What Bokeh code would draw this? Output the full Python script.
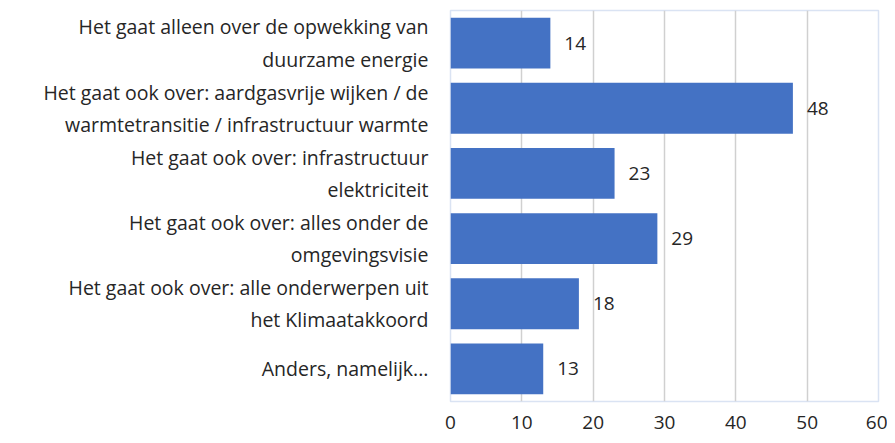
from bokeh.plotting import figure
from bokeh.models import ColumnDataSource, FactorRange, LabelSet, FixedTicker
from bokeh.core.properties import value
from bokeh.embed import file_html
from bokeh.resources import INLINE

categories = [
    "Het gaat alleen over de opwekking van\nduurzame energie",
    "Het gaat ook over: aardgasvrije wijken / de\nwarmtetransitie / infrastructuur warmte",
    "Het gaat ook over: infrastructuur\nelektriciteit",
    "Het gaat ook over: alles onder de\nomgevingsvisie",
    "Het gaat ook over: alle onderwerpen uit\nhet Klimaatakkoord",
    "Anders, namelijk...",
]
values = [14, 48, 23, 29, 18, 13]
x_ticks = [0, 10, 20, 30, 40, 50, 60]

src = ColumnDataSource(dict(cat=categories, val=values, lab=[str(v) for v in values]))

p = figure(width=887, height=435, output_backend="svg", toolbar_location=None,
           y_range=FactorRange(factors=categories[::-1], range_padding=0),
           x_range=(0, 60), min_border_left=450, min_border_right=9,
           min_border_top=10, min_border_bottom=34)

p.hbar(y="cat", right="val", left=0, height=0.78, source=src,
       fill_color="#4472C4", line_color=None)

labels = LabelSet(x="val", y="cat", text="lab", source=src, x_offset=14,
                  text_baseline="middle", text_font=value("Open Sans"),
                  text_font_size=value("19px"), text_color="#262626")
p.add_layout(labels)

p.xaxis.ticker = FixedTicker(ticks=x_ticks)
p.xaxis.axis_line_color = None
p.xaxis.major_tick_line_color = None
p.xaxis.minor_tick_line_color = None
p.xaxis.major_label_text_font = "Open Sans"
p.xaxis.major_label_text_font_size = "19px"
p.xaxis.major_label_text_color = "#262626"
p.xaxis.major_label_standoff = 8

p.yaxis.axis_line_color = None
p.yaxis.major_tick_line_color = None
p.yaxis.minor_tick_line_color = None
p.yaxis.major_label_text_font = "Open Sans"
p.yaxis.major_label_text_font_size = "19.5px"
p.yaxis.major_label_text_color = "#262626"
p.yaxis.major_label_standoff = 16

p.ygrid.grid_line_color = None
p.xgrid.grid_line_color = "#D0D0D0"
p.xgrid.grid_line_width = 1.5
p.outline_line_color = "#DAE3F3"
p.outline_line_width = 1.5

open("out.html", "w").write(file_html(p, INLINE))
